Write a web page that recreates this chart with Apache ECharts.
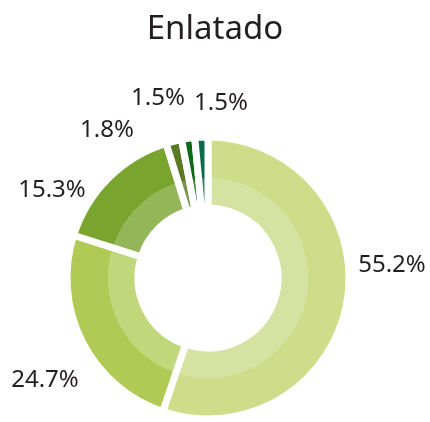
<!DOCTYPE html>
<html>
<head>
<meta charset="utf-8">
<script src="https://cdn.jsdelivr.net/npm/echarts@6/dist/echarts.min.js"></script>
<style>
  html, body { margin: 0; padding: 0; background: #fff; }
  #chart { width: 430px; height: 422px; }
</style>
</head>
<body>
<div id="chart"></div>
<script>
  // datos del gráfico
  const categories = ['A', 'B', 'C', 'D', 'E', 'F'];
  const values = [55.2, 24.7, 15.3, 1.8, 1.5, 1.5];
  const outerColors = ['#cfdd8a', '#b0ca55', '#79a42e', '#5a7a24', '#0d6a14', '#0a6b48'];
  const innerColors = ['#d6e2a1', '#c0d77b', '#93b659', '#7b9350', '#3b7f35', '#3a8263'];

  // posición de las etiquetas (centro del texto)
  const labelPos = [[392, 265], [45, 380], [52, 190], [107, 130], [158, 98], [221, 103]];

  const chart = echarts.init(document.getElementById('chart'));
  const font = "'Noto Sans', sans-serif";
  // el borde blanco se come la mitad de su ancho por cada lado
  const cx = 208, cy = 278, rIn = 70, rMid = 100, rOut = 141;

  // anillo interior más claro mediante gradiente radial
  const fill = (inner, outer) => ({
    type: 'radial', x: cx, y: cy, r: rOut, global: true,
    colorStops: [
      { offset: 0, color: inner },
      { offset: rMid / rOut, color: inner },
      { offset: rMid / rOut + 0.001, color: outer },
      { offset: 1, color: outer }
    ]
  });

  const data = categories.map((c, i) => ({
    name: c, value: values[i], itemStyle: { color: fill(innerColors[i], outerColors[i]) }
  }));

  const option = {
    animation: false,
    title: {
      text: 'Enlatado',
      left: 'center',
      top: 8,
      textStyle: { fontFamily: font, fontWeight: 'normal', fontSize: 33, color: '#231f20' }
    },
    series: [
      {
        type: 'pie',
        center: [cx, cy],
        radius: [rIn, rOut],
        startAngle: 90,
        clockwise: true,
        avoidLabelOverlap: false,
        itemStyle: { borderColor: '#fff', borderWidth: 7 },
        label: {
          show: true,
          position: 'outside',
          formatter: p => p.value.toFixed(1) + '%',
          fontFamily: font,
          fontSize: 24,
          color: '#231f20'
        },
        labelLine: { show: false },
        labelLayout: p => ({
          x: labelPos[p.dataIndex][0],
          y: labelPos[p.dataIndex][1],
          align: 'center',
          verticalAlign: 'middle'
        }),
        data: data
      }
    ]
  };
  chart.setOption(option);
</script>
</body>
</html>
